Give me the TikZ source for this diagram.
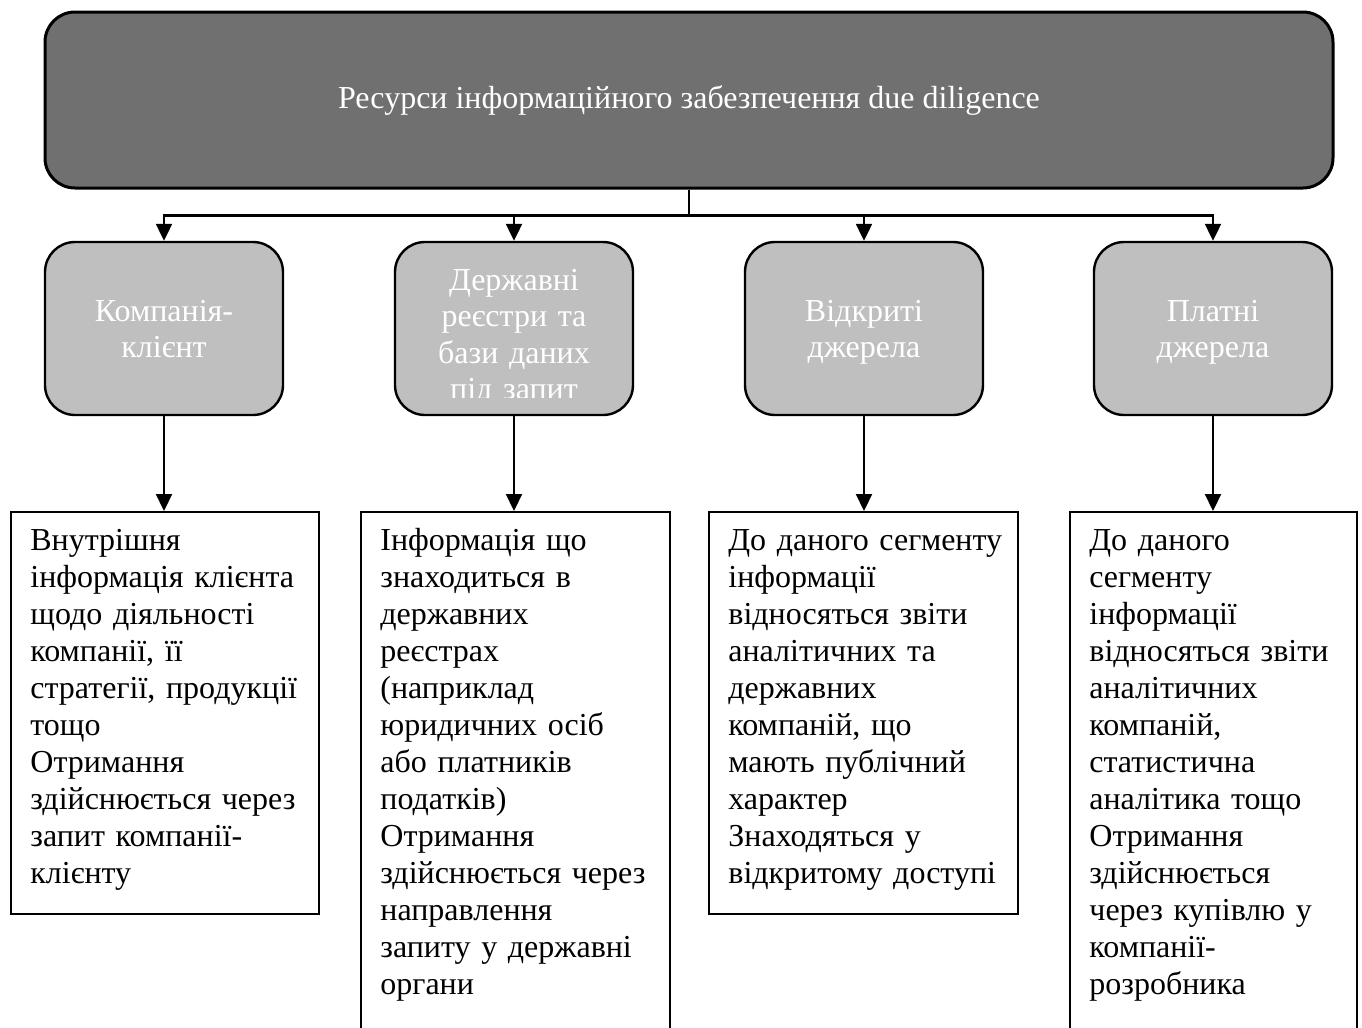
\documentclass[tikz,border=0pt]{standalone}
\usepackage{fontspec}
\setmainfont{Liberation Serif}
\usepackage{tikz}
\usetikzlibrary{arrows.meta}

\tikzset{
    topbox/.style={draw, line width=1.5pt, rounded corners=15pt, fill=black!56,
        text=white, minimum width=644pt, minimum height=88pt,
        font=\fontsize{16pt}{18.5pt}\selectfont},
    kindbox/.style={draw, line width=1.2pt, rounded corners=15pt, fill=black!25,
        minimum width=119pt, minimum height=86.5pt},
    kindtext/.style={text=white, text width=118pt, align=center, inner sep=0pt,
        font=\fontsize{16pt}{18.25pt}\selectfont},
    infobox/.style={draw, line width=0.8pt, anchor=north west},
    infotext/.style={anchor=base west, inner sep=0pt, align=left,
        font=\fontsize{16pt}{18.5pt}\selectfont},
    arr/.style={-{Triangle[width=8pt,length=8.5pt]}, line width=1.1pt}
}

\begin{document}
\begin{tikzpicture}[x=0.5pt,y=-0.5pt]
        % page
        \path[use as bounding box, clip] (0,0) rectangle (1362,1028);

        % top box
        \node[topbox] (top) at (689,100) {Ресурси інформаційного забезпечення due diligence};

        % source boxes
        \node[kindbox] (k1) at (164,328.5) {};
        \node[kindbox] (k2) at (514,328.5) {};
        \node[kindbox] (k3) at (864,328.5) {};
        \node[kindbox] (k4) at (1213,328.5) {};

        % source labels
        \node[kindtext, anchor=base] at (164,321) {Компанія-\\клієнт};
        \node[kindtext, anchor=base] at (864,321) {Відкриті\\джерела};
        \node[kindtext, anchor=base] at (1213,321) {Платні\\джерела};
        \begin{scope}
            \clip (k2.north west) rectangle (633,397);
            \node[kindtext, anchor=base] at (514,290) {Державні\\реєстри та\\бази даних\\під запит};
        \end{scope}

        % detail boxes
        \node[infobox, minimum width=154pt, minimum height=201pt] (d1) at (10,511) {};
        \node[infobox, minimum width=154.5pt, minimum height=280pt] (d2) at (360,511) {};
        \node[infobox, minimum width=154.5pt, minimum height=201pt] (d3) at (708,511) {};
        \node[infobox, minimum width=143.5pt, minimum height=280pt] (d4) at (1069,511) {};

        % detail texts
        \node[infotext, text width=140pt] at ([shift={(10pt,-19.5pt)}]d1.north west)
            {Внутрішня\\інформація клієнта\\щодо діяльності\\компанії, її\\стратегії, продукції\\тощо\\Отримання\\здійснюється через\\запит компанії-\\клієнту};
        \node[infotext, text width=140pt] at ([shift={(10pt,-19.5pt)}]d2.north west)
            {Інформація що\\знаходиться в\\державних\\реєстрах\\(наприклад\\юридичних осіб\\або платників\\податків)\\Отримання\\здійснюється через\\направлення\\запиту у державні\\органи};
        \node[infotext, text width=140pt] at ([shift={(10pt,-19.5pt)}]d3.north west)
            {До даного сегменту\\інформації\\відносяться звіти\\аналітичних та\\державних\\компаній, що\\мають публічний\\характер\\Знаходяться у\\відкритому доступі};
        \node[infotext, text width=130pt] at ([shift={(10pt,-19.5pt)}]d4.north west)
            {До даного\\сегменту\\інформації\\відносяться звіти\\аналітичних\\компаній,\\статистична\\аналітика тощо\\Отримання\\здійснюється\\через купівлю у\\компанії-\\розробника};

        % connectors
        \foreach \k in {k1,k2,k3,k4}
            \draw[arr] (top.south) -- ++(0,26) -| (\k.north);
        \foreach \k/\d in {k1/d1,k2/d2,k3/d3,k4/d4}
            \draw[arr] (\k.south) -- (\k.south |- \d.north);
\end{tikzpicture}
\end{document}
